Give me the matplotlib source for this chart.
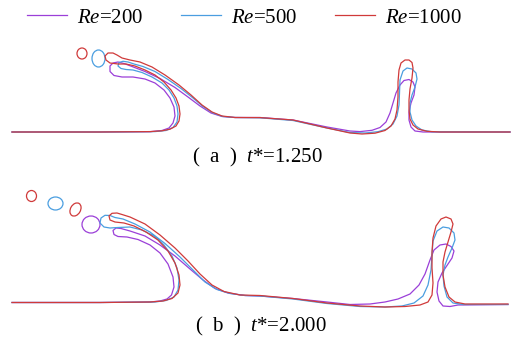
import numpy as np
import matplotlib
matplotlib.use('Agg')
import matplotlib.pyplot as plt
from matplotlib.patches import Ellipse

plt.rcParams['font.family'] = ['Liberation Serif', 'DejaVu Serif']
plt.rcParams['mathtext.fontset'] = 'custom'
plt.rcParams['mathtext.rm'] = 'Liberation Serif'
plt.rcParams['mathtext.it'] = 'Liberation Serif:italic'

# digitised interface shapes, in picture pixels (x right, y down)
labels = [r'$Re$=200', r'$Re$=500', r'$Re$=1000']
colors = ['#9b3fd8', '#4a9ee0', '#d03a3a']
captions = [r'(  a  )  $t$*=1.250', r'(  b  )  $t$*=2.000']

a_re200 = [(12,132),(100,132),(150,131.7),(162,130.5),(169,128),(173,123),(175,116),(174,107),(170,98),(164,90),
           (155,83),(145,79),(133,77),(122,77),(114,75.5),(110,71.5),(110,66),(113,63),(118,62),(124,63.5),
           (132,66.5),(145,71.5),(160,78.5),(175,87.5),(188,97),(200,106),(211,113),(222,116.5),(235,117.5),
           (260,117.5),(293,120),(327,127),(350,131),(360,131.6),(372,130.3),(380,127.5),(386,122),(390,113),
           (393,103),(396,93),(400,85),(404,80.5),(409,79.5),(413,82),(415,87),(414,95),(411,103),(409,112),
           (409,120),(411,127),(415,131),(423,132),(510,132)]
a_re500 = [(12,132),(100,132),(155,131.6),(166,130.5),(173,127.5),(177,122),(178,114),(177,106),(174,98),(169,90),
           (162,83),(152,77),(142,72.5),(133,70),(126,69.5),(121,68.5),(118,66),(119,62.5),(123,61.3),(128,62),
           (134,64),(143,66.5),(155,71.5),(168,79.5),(181,88.5),(193,98),(203,106.5),(213,113),(223,116.5),
           (235,117.5),(260,117.8),(293,120.5),(327,128),(350,132.5),(365,133),(378,131.7),(387,129),(393,124),
           (397,116),(399,105),(399.5,93),(400,80),(403,71),(407,68),(412,69),(416,73),(417,79),(415,87),
           (412,95),(410,103),(410,112),(412,120),(416,126),(422,130),(432,131.8),(510,132)]
a_re1000 = [(12,132),(100,132),(150,131.6),(162,130.8),(170,129.2),(176,126),(179,121),(180,114),(179,106),(176,98),
            (171,90),(164,82),(155,75),(145,70),(135,66),(126,64),(118,64),(110,63),(106,60),(105,56),(108,53),
            (113,53),(117,55),(122,58),(130,60),(140,62),(152,67),(165,75),(179,85),(191,95),(202,105),(212,112),
            (222,116),(235,117.5),(260,117.6),(293,120),(327,128),(350,133),(362,134),(375,133.2),(385,130.5),
            (391,126),(395,119),(397,110),(398,97),(398,82),(399,70),(401,63),(405,60),(409,60),(412,62.5),
            (413,68),(412,78),(410,89),(409,100),(409,110),(410,119),(413,125),(418,129),(427,131.3),(440,132),
            (510,132)]

b_re200 = [(12,302.5),(100,302.5),(150,302),(160,301),(167,299),(171.5,295),(174,287),(173,277),(168,264),(160,253),
           (150,245),(138,239.5),(127,237),(118,236.5),(114,234.5),(113,230.5),(116,228),(121,228.5),(130,231),
           (145,236),(160,245),(175,256),(190,269),(203,280),(215,288.5),(228,293),(245,295.5),(260,296),
           (293,298.5),(327,302),(350,304.5),(370,304),(385,302),(398,299),(410,294),(419,285),(425,274),
           (430,260),(434,250),(440,245),(446,244),(451,246.5),(454,251),(452,258),(447,265.5),(442,273),
           (438,282),(437,292),(439,301),(443,306),(450,306.5),(458,305),(508,304.5)]
b_re500 = [(12,302.5),(100,302.5),(155,302),(166,300.5),(174,297),(178,290),(179,280),(177,268),(172,256),(164,245),
           (154,236),(142,230),(130,227),(118,227.5),(110,228),(104,227),(100,223),(101,218),(105,215.3),
           (110,215.5),(115,217.5),(123,219),(135,224),(150,232),(165,243.5),(180,257),(193,270),(205,282),
           (217,289.5),(230,293.5),(245,295.5),(260,296),(293,299),(327,303.5),(360,306.5),(385,307),(402,306),
           (414,303),(423,296),(428,285),(431,270),(432,255),(433,241),(437,231),(443,227),(449,228),(454,233),
           (455,240),(452,248),(448,257),(445,265),(443,275),(444,286),(447,297),(453,303),(463,304.5),
           (508,304.5)]
b_re1000 = [(12,302.5),(100,302.5),(150,302),(163,301),(172,298.5),(178,293),(180,285),(179,275),(175,263),
            (168,251),(158,240),(146,232),(134,226),(124,223),(115,222),(110,220),(109,216),(112,213.3),(117,213),
            (122,214.5),(130,217),(145,224),(160,235),(175,248),(188,261),(200,274),(212,285),(224,291.5),
            (240,295),(260,295.5),(293,298.5),(327,303),(360,306),(385,307),(405,306.5),(420,305),(428,302),
            (432,295),(433,283),(432,268),(432,252),(433,238),(436,226),(441,219),(446,217),(451,219),(453,224),
            (451,232),(448,242),(445,252),(443,262),(443,275),(445,287),(449,297),(455,302),(465,304),(508,304)]

# detached droplets: x, y, width, height, angle, series index
drops_x = [82, 98.5, 31.5, 55.5, 75.5, 91]
drops_y = [53.5, 58.5, 196, 203.5, 209.5, 224.5]
drops_w = [10, 13, 10, 15, 10, 18]
drops_h = [11, 17, 11, 13, 14, 17]
drops_ang = [0, 0, 0, 0, 30, 0]
drops_re = [2, 1, 2, 1, 2, 0]

fig = plt.figure(figsize=(5.18, 3.51), dpi=100)
ax = fig.add_axes([0, 0, 1, 1])
ax.set_xlim(0, 518)
ax.set_ylim(351, 0)
ax.axis('off')

curves = [[a_re200, a_re500, a_re1000], [b_re200, b_re500, b_re1000]]
for panel in curves:
    for i, pts in enumerate(panel):
        pts = np.array(pts)
        ax.plot(pts[:, 0], pts[:, 1], color=colors[i], lw=0.9,
                label=labels[i] if panel is curves[0] else None)

for x, y, w, h, a, r in zip(drops_x, drops_y, drops_w, drops_h, drops_ang, drops_re):
    ax.add_patch(Ellipse((x, y), w, h, angle=a, fill=False, ec=colors[r], lw=0.9))

ax.text(257, 157, captions[0], fontsize=15, ha='center', va='center')
ax.text(261, 326, captions[1], fontsize=15, ha='center', va='center')

fig.legend(loc='center', bbox_to_anchor=(0.472, 0.949), ncol=3, frameon=False,
           fontsize=15, handlelength=1.9, handletextpad=0.5, columnspacing=1.8)

fig.savefig('out.png', dpi=100)
